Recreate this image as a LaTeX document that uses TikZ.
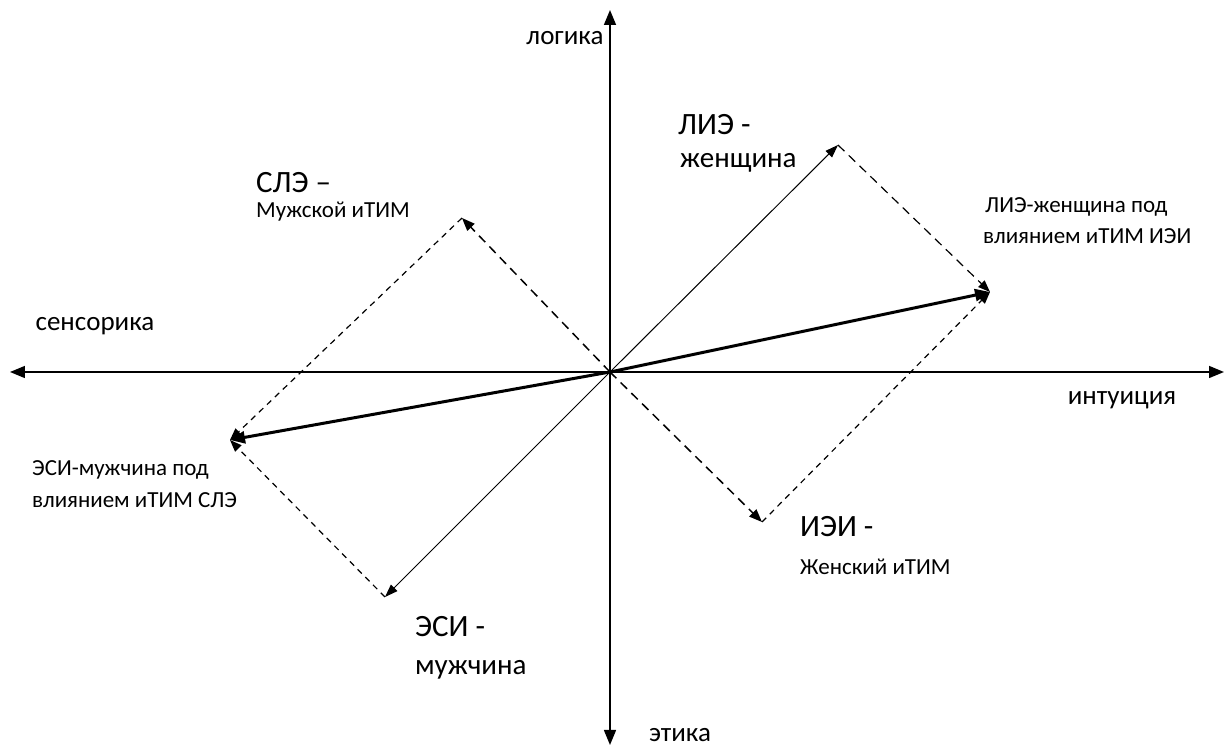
\documentclass[tikz,border=0pt]{standalone}
\usepackage{fontspec}
\setmainfont{Carlito}
\usetikzlibrary{arrows.meta}
\tikzset{
  axis/.style={line width=1.5pt, {Triangle[length=15pt,width=12pt]}-{Triangle[length=15pt,width=12pt]}},
  vec/.style={line width=1pt, -{Triangle[length=13pt,width=9pt]}},
  resvec/.style={line width=3pt, -{Triangle[length=15pt,width=12pt]}},
  itim/.style={line width=1.5pt, dash pattern=on 9pt off 6pt, -{Triangle[length=13pt,width=10pt]}},
  side/.style={line width=1.2pt, dash pattern=on 6pt off 5pt, -{Triangle[length=12pt,width=9pt]}},
  axlabel/.style={font=\fontsize{27}{30}\selectfont},
  big/.style={anchor=west, inner sep=0pt, font=\fontsize{31}{34}\selectfont},
  mid/.style={anchor=west, inner sep=0pt, font=\fontsize{29}{32}\selectfont},
  small/.style={anchor=west, inner sep=0pt, font=\fontsize{23}{26}\selectfont}
}
\begin{document}
\begin{tikzpicture}[x=1pt,y=1pt]
\useasboundingbox (-610,-379) rectangle (619,372);
% axes
\coordinate (O) at (0,0);
\coordinate (W) at (-600,0);
\coordinate (E) at (614,0);
\coordinate (N) at (0,362);
\coordinate (S) at (0,-373);
\draw [axis] (W) -- (E);
\draw [axis] (S) -- (N);
\node [axlabel] (logic) at (-45,334) {логика};
\node [axlabel] (ethics) at (70,-363) {этика};
\node [axlabel] (sensor) at (-515,46) {сенсорика};
\node [axlabel] (intuit) at (512,-28) {интуиция};
% vectors
\coordinate (lie) at (228,227);
\coordinate (iei) at (152,-150);
\coordinate (sle) at (-148,154);
\coordinate (esi) at (-225,-225);
\coordinate (lieres) at (380,80);
\coordinate (esires) at (-380,-68);
\draw [vec] (O) -- (lie);
\draw [vec] (O) -- (esi);
\draw [itim] (O) -- (sle);
\draw [itim] (O) -- (iei);
\draw [side, dash pattern=on 9pt off 6pt] (lie) -- (lieres);
\draw [side] (iei) -- (lieres);
\draw [side] (sle) -- (esires);
\draw [side] (esi) -- (esires);
\draw [resvec] (O) -- (lieres);
\draw [resvec] (O) -- (esires);
% labels
\node [big] (lieA) at (68,247) {ЛИЭ -};
\node [mid] (lieB) at (70,209) {женщина};
\node [big] (sleA) at (-354,189) {СЛЭ –};
\node [small] (sleB) at (-354,160) {Мужской иТИМ};
\node [small] (lieresA) at (375,165) {ЛИЭ-женщина под};
\node [small] (lieresB) at (373,136) {влиянием иТИМ ИЭИ};
\node [big] (ieiA) at (190,-155) {ИЭИ -};
\node [small] (ieiB) at (190,-195) {Женский иТИМ};
\node [small] (esiresA) at (-578,-98) {ЭСИ-мужчина под};
\node [small] (esiresB) at (-578,-128) {влиянием иТИМ СЛЭ};
\node [big] (esiA) at (-195,-255) {ЭСИ -};
\node [mid] (esiB) at (-195,-298) {мужчина};
\end{tikzpicture}
\end{document}
